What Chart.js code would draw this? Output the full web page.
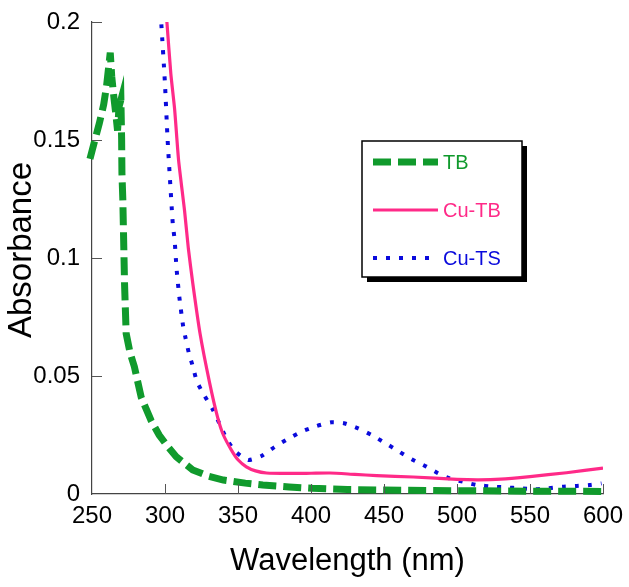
<!DOCTYPE html>
<html>
<head>
<meta charset="utf-8">
<script src="https://cdn.jsdelivr.net/npm/chart.js@4.4.1/dist/chart.umd.min.js"></script>
<style>
html,body{margin:0;padding:0;background:#fff;}
#wrap{width:629px;height:587px;}
</style>
</head>
<body>
<div id="wrap"><canvas id="c" width="629" height="587"></canvas></div>
<script>
// ---- data ----
const xTicks = [250, 300, 350, 400, 450, 500, 550, 600];
const yTicks = [0, 0.05, 0.1, 0.15, 0.2];

const tbWl  = [248.6, 252, 255, 258, 260, 262.5, 263.5, 265, 266.5, 267.5, 268.5, 269.8, 270.3, 270.5, 271.1, 272.3, 273.4, 276, 279, 283.7, 290.6, 296, 302, 307.7, 319, 330, 340, 355, 367, 385, 401, 425, 450, 500, 550, 600];
const tbAbs = [0.142, 0.150, 0.157, 0.165, 0.173, 0.187, 0.177, 0.168, 0.160, 0.154, 0.164, 0.167, 0.150, 0.136, 0.125, 0.089, 0.068, 0.060, 0.054, 0.041, 0.031, 0.025, 0.020, 0.0158, 0.0102, 0.0075, 0.0059, 0.0046, 0.0038, 0.0030, 0.0024, 0.0019, 0.0017, 0.0014, 0.0012, 0.0011];

const cutbWl  = [301.3, 304, 306.6, 309.3, 313.4, 316, 319, 324, 330.6, 336, 340, 345.5, 350, 355.7, 362, 369.5, 385, 400, 413, 430, 445, 470, 500, 515, 530, 550, 575, 600];
const cutbAbs = [0.200, 0.178, 0.163, 0.1415, 0.120, 0.104, 0.0894, 0.068, 0.047, 0.0326, 0.025, 0.0186, 0.0145, 0.0115, 0.0098, 0.0089, 0.0087, 0.0088, 0.0089, 0.0083, 0.0078, 0.0072, 0.0062, 0.0060, 0.0063, 0.0074, 0.0090, 0.0110];

const cutsWl  = [297.5, 299.9, 301.8, 304.7, 305.4, 306.6, 307.9, 309.8, 312.3, 314.1, 316.4, 319.1, 321.9, 327.2, 332.9, 337, 342, 347.7, 356.9, 366, 375, 383, 393.5, 403.8, 414, 422.5, 432.3, 441.5, 450.6, 459.7, 469, 479, 487, 495, 504, 513.5, 525, 534, 543, 553.5, 562.6, 573, 582, 591, 599];
const cutsAbs = [0.199, 0.1747, 0.150, 0.1203, 0.114, 0.1076, 0.0956, 0.0836, 0.0716, 0.066, 0.0596, 0.054, 0.0476, 0.0415, 0.0356, 0.0302, 0.0236, 0.0183, 0.0144, 0.0161, 0.0199, 0.0229, 0.0264, 0.0288, 0.0304, 0.0300, 0.0278, 0.0250, 0.0217, 0.0182, 0.0147, 0.0116, 0.0088, 0.0066, 0.0052, 0.0038, 0.0031, 0.0028, 0.0024, 0.0020, 0.0024, 0.0031, 0.0034, 0.0038, 0.0045];

const seriesNames = ['TB', 'Cu-TB', 'Cu-TS'];
const xTitle = 'Wavelength (nm)';
const yTitle = 'Absorbance';

// ---- styling ----
const GREEN = '#109a2c', PINK = '#ff2a88', BLUE = '#0a0adc';
const FONT = "'Liberation Sans', Arial, Helvetica, sans-serif";

const pts = (xs, ys) => xs.map((x, i) => ({x: x, y: ys[i]}));

const inwardTicks = {
  id: 'inwardTicks',
  afterDatasetsDraw(chart) {
    const ctx = chart.ctx, xs = chart.scales.x, ys = chart.scales.y;
    const area = chart.chartArea;
    ctx.save();
    ctx.strokeStyle = '#555';
    ctx.lineWidth = 1;
    ctx.beginPath();
    xTicks.forEach(v => {
      if (v === 250) return;
      const px = Math.round(xs.getPixelForValue(v)) + 0.5;
      ctx.moveTo(px, area.bottom);
      ctx.lineTo(px, area.bottom - 10);
    });
    yTicks.forEach(v => {
      if (v === 0) return;
      const py = Math.round(ys.getPixelForValue(v)) + 0.5;
      ctx.moveTo(area.left, py);
      ctx.lineTo(area.left + 10, py);
    });
    ctx.stroke();
    // y axis title
    ctx.fillStyle = '#000';
    ctx.font = '33px ' + FONT;
    ctx.textAlign = 'center';
    ctx.textBaseline = 'middle';
    ctx.translate(22, 250);
    ctx.rotate(-Math.PI / 2);
    ctx.fillText(yTitle, 0, 0);
    ctx.restore();
  }
};

const boxLegend = {
  id: 'boxLegend',
  afterDraw(chart) {
    const ctx = chart.ctx;
    const L = 362, T = 141, W = 160, H = 136, S = 5;
    ctx.save();
    ctx.fillStyle = '#000';
    ctx.fillRect(L + S, T + S, W, H);
    ctx.fillStyle = '#fff';
    ctx.fillRect(L, T, W, H);
    ctx.strokeStyle = '#000';
    ctx.lineWidth = 1.5;
    ctx.strokeRect(L, T, W, H);
    const rows = [162, 210, 258];
    ctx.font = '20px ' + FONT;
    ctx.textBaseline = 'middle';
    chart.data.datasets.forEach((ds, i) => {
      const y = rows[i];
      ctx.beginPath();
      ctx.strokeStyle = ds.borderColor;
      ctx.lineWidth = ds.borderWidth;
      ctx.setLineDash(ds.borderDash || []);
      ctx.lineCap = 'butt';
      ctx.moveTo(373, y);
      ctx.lineTo(438, y);
      ctx.stroke();
      ctx.setLineDash([]);
      ctx.fillStyle = ds.borderColor;
      ctx.fillText(ds.label, 443, y + 1);
    });
    ctx.restore();
  }
};

new Chart(document.getElementById('c'), {
  type: 'line',
  data: {
    datasets: [
      {label: seriesNames[0], data: pts(tbWl, tbAbs), borderColor: GREEN, borderWidth: 7, borderDash: [18, 7], pointRadius: 0, tension: 0, clip: 6},
      {label: seriesNames[1], data: pts(cutbWl, cutbAbs), borderColor: PINK, borderWidth: 3.2, pointRadius: 0, tension: 0.2},
      {label: seriesNames[2], data: pts(cutsWl, cutsAbs), borderColor: BLUE, borderWidth: 4, borderDash: [4, 9], pointRadius: 0, tension: 0.2}
    ]
  },
  options: {
    responsive: false,
    animation: false,
    devicePixelRatio: 1,
    layout: {padding: {top: 22, right: 26, left: 0, bottom: 0}},
    plugins: {legend: {display: false}, tooltip: {enabled: false}},
    scales: {
      x: {
        type: 'linear', min: 250, max: 600,
        afterBuildTicks: s => { s.ticks = xTicks.map(v => ({value: v})); },
        afterFit: s => { s.height = 93; s.paddingLeft = 0; s.paddingRight = 0; },
        grid: {display: false, drawTicks: false},
        border: {display: true, color: '#444', width: 1.2},
        ticks: {color: '#000', font: {family: FONT, size: 24}, padding: 8, maxRotation: 0},
        title: {display: true, text: xTitle, color: '#000', font: {family: FONT, size: 31}, padding: {top: 0, bottom: 7}}
      },
      y: {
        type: 'linear', min: 0, max: 0.2,
        afterBuildTicks: s => { s.ticks = yTicks.map(v => ({value: v})); },
        afterFit: s => { s.width = 92; s.paddingTop = 0; s.paddingBottom = 0; },
        grid: {display: false, drawTicks: false},
        border: {display: true, color: '#444', width: 1.2},
        ticks: {color: '#000', font: {family: FONT, size: 24}, padding: 12,
                callback: v => String(parseFloat(Number(v).toFixed(3)))},
        title: {display: false}
      }
    }
  },
  plugins: [inwardTicks, boxLegend]
});
</script>
</body>
</html>
